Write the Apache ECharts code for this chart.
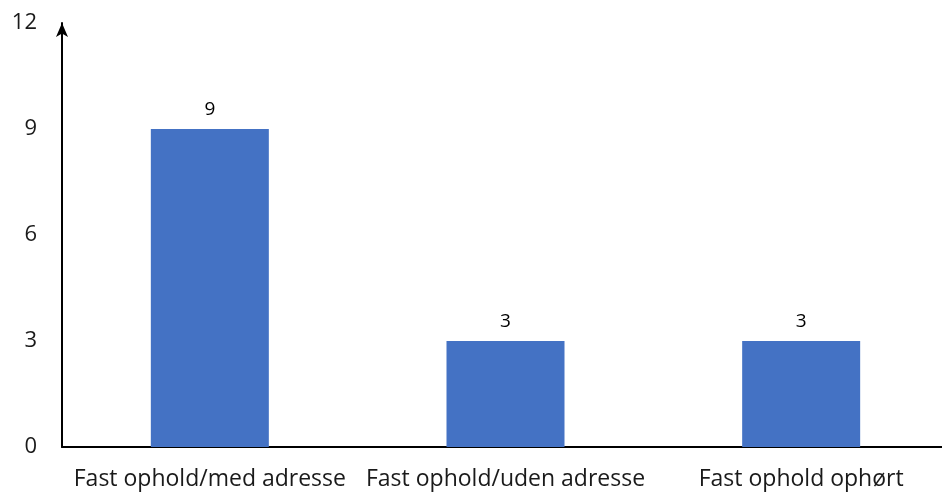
<!DOCTYPE html>
<html><head><meta charset="utf-8">
<script src="https://cdn.jsdelivr.net/npm/echarts@6/dist/echarts.min.js"></script>
<style>html,body{margin:0;padding:0;background:#fff;overflow:hidden;width:942px;height:494px}#c{width:949px;height:494px}</style>
</head><body><div id="c"></div>
<script>
const categories = ['Fast ophold/med adresse', 'Fast ophold/uden adresse', 'Fast ophold ophørt'];
const values = [9, 3, 3];
const yTicks = [0, 3, 6, 9, 12];

const chart = echarts.init(document.getElementById('c'), null, {renderer: 'canvas'});
chart.setOption({
  animation: false,
  textStyle: {fontFamily: 'Open Sans, Liberation Sans, sans-serif'},
  grid: {left: 62, right: 0, top: 23, bottom: 47, containLabel: false},
  xAxis: {
    type: 'category', data: categories,
    axisLine: {lineStyle: {color: '#000', width: 2}},
    axisTick: {show: false},
    axisLabel: {color: '#1a1a1a', fontSize: 23, margin: 21, interval: 0, fontFamily: 'Open Sans'}
  },
  yAxis: {
    type: 'value', min: yTicks[0], max: yTicks[yTicks.length - 1], interval: 3,
    axisLine: {show: true, lineStyle: {color: '#000', width: 2}, symbol: ['none', 'arrow'], symbolSize: [9, 14], symbolOffset: [0, 0]},
    axisTick: {show: false},
    splitLine: {show: false},
    axisLabel: {color: '#1a1a1a', fontSize: 22, margin: 25, fontFamily: 'Open Sans'}
  },
  series: [{
    type: 'bar', data: values, barWidth: 118,
    itemStyle: {color: '#4472C4'},
    label: {show: true, position: 'top', distance: 10, color: '#000', fontSize: 19, fontFamily: 'Open Sans'}
  }]
});
</script></body></html>
